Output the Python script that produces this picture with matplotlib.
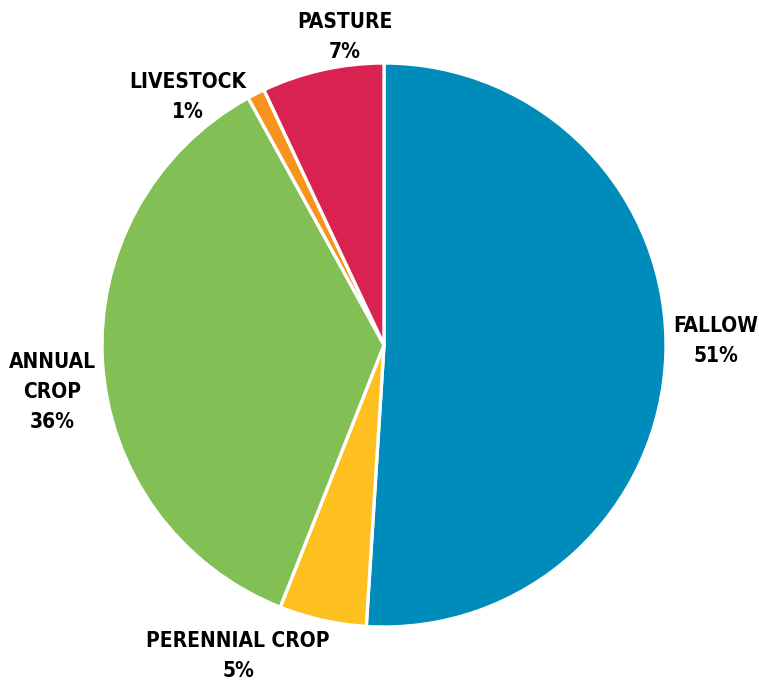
import matplotlib.pyplot as plt

LABELS = ["FALLOW", "PERENNIAL CROP", "ANNUAL\nCROP", "LIVESTOCK", "PASTURE"]
SHARES = [51, 5, 36, 1, 7]
COLORS = ["#008cba", "#fec01f", "#82bf55", "#f7941e", "#d92250"]

# label block centres, in pixels from the top-left corner
LABEL_POS = [(716, 341), (238, 656), (52, 392), (188, 97), (345, 37)]

W, H = 759, 686


def main():
    plt.rcParams['font.family'] = ['DejaVu Sans']
    fig = plt.figure(figsize=(W / 100, H / 100), dpi=100)
    ax = fig.add_axes([0, 0, 1, 1])

    ax.pie(SHARES, colors=COLORS, startangle=90, counterclock=False,
           center=(384, H - 345), radius=282, frame=True,
           wedgeprops=dict(edgecolor='white', linewidth=2.4))
    ax.set_xlim(0, W)
    ax.set_ylim(0, H)
    ax.set_aspect('equal')
    ax.axis('off')

    for label, share, (x, y) in zip(LABELS, SHARES, LABEL_POS):
        ax.text(x, H - y, f"{label}\n{share}%", ha='center', va='center',
                fontsize=15, fontweight='bold', fontstretch='condensed',
                linespacing=1.65, color='black')

    fig.savefig("out.png", dpi=100)


if __name__ == "__main__":
    main()
